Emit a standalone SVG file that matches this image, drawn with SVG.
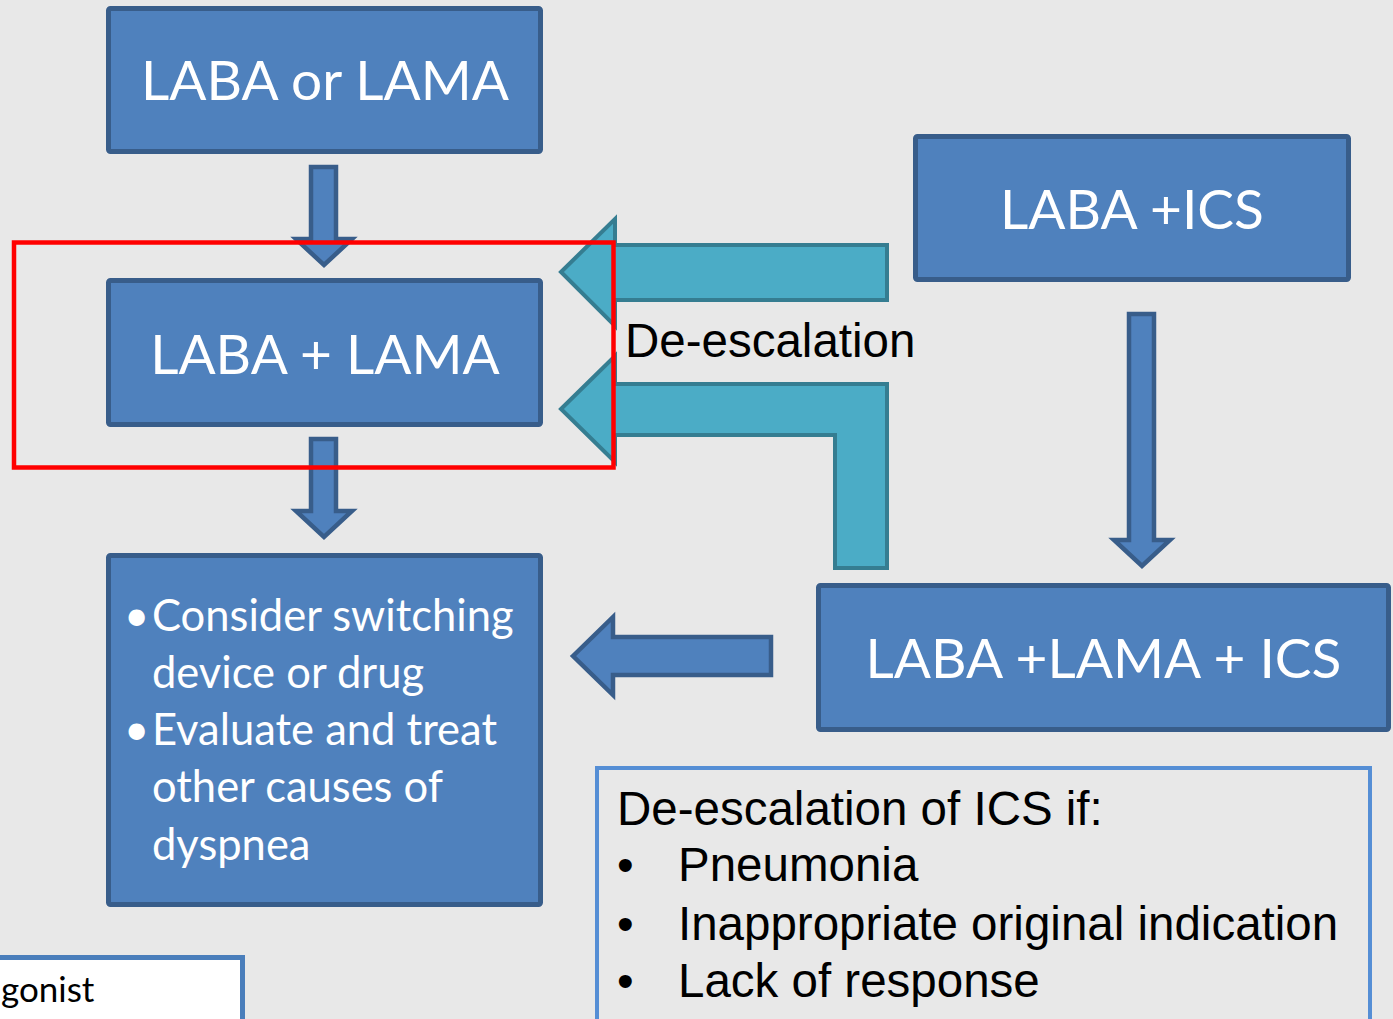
<svg xmlns="http://www.w3.org/2000/svg" width="1393" height="1019" viewBox="0 0 1393 1019">
<style>
.box{fill:#4f81bd;stroke:#385d8a;stroke-width:5}
.big{font-family:Lato,"Open Sans","Liberation Sans",sans-serif;font-size:55px;fill:#fff;text-anchor:middle}
.bul{font-family:Lato,"Open Sans","Liberation Sans",sans-serif;font-size:43.5px;fill:#fff}
.arial{font-family:"Liberation Sans",Arial,sans-serif;font-size:47.5px;fill:#000}
.barrow{fill:#4f81bd;stroke:#385d8a;stroke-width:4.5;stroke-linejoin:miter}
.tarrow{fill:#4bacc6;stroke:#357d91;stroke-width:4;stroke-linejoin:miter}
</style>
<rect x="0" y="0" width="1393" height="1019" fill="#e8e8e8"/>
<g id="connectors">
<polygon class="barrow" points="311,167 336,167 336,239 352,239 324,265 296,239 311,239"/>
<polygon class="barrow" points="311,439 336,439 336,511 352,511 324,537 296,511 311,511"/>
<polygon class="barrow" points="1129,314 1154,314 1154,540 1170,540 1142,566 1114,540 1129,540"/>
<polygon class="barrow" points="573,656 613,617 613,637 771,637 771,675 613,675 613,695"/>
<polygon class="tarrow" points="561,272 615,219 615,245 887,245 887,300 615,300 615,326"/>
<polygon class="tarrow" points="561,409 615,356 615,384 887,384 887,568 835,568 835,435 615,435 615,462"/>
<text class="arial" x="625" y="357">De-escalation</text>
</g>
<g id="n1">
<rect class="box" x="108.5" y="8.5" width="432" height="143" rx="2"/>
<text class="big" x="325" y="100">LABA or LAMA</text>
</g>
<g id="n2">
<rect class="box" x="108.5" y="280.5" width="432" height="144" rx="2"/>
<text class="big" x="325" y="374">LABA + LAMA</text>
</g>
<g id="n3">
<rect class="box" x="108.5" y="555.5" width="432" height="349" rx="2"/>
<text class="bul" x="124" y="631">•</text>
<text class="bul" x="152" y="631">Consider switching</text>
<text class="bul" x="152" y="688">device or drug</text>
<text class="bul" x="124" y="745">•</text>
<text class="bul" x="152" y="745">Evaluate and treat</text>
<text class="bul" x="152" y="802">other causes of</text>
<text class="bul" x="152" y="860">dyspnea</text>
</g>
<g id="n4">
<rect class="box" x="915.5" y="136.5" width="433" height="143" rx="2"/>
<text class="big" x="1132" y="229">LABA +ICS</text>
</g>
<g id="n5">
<rect class="box" x="818.5" y="585.5" width="570" height="144" rx="2"/>
<text class="big" x="1103.5" y="678">LABA +LAMA + ICS</text>
</g>
<g id="highlight">
<rect x="14" y="242.5" width="599.5" height="225" fill="none" stroke="#ff0000" stroke-width="4.5"/>
</g>
<g id="note">
<rect x="597" y="768" width="773" height="270" fill="#e8e8e8" stroke="#558ed5" stroke-width="4"/>
<text class="arial" x="617" y="825">De-escalation of ICS if:</text>
<text class="arial" x="617" y="881">•</text>
<text class="arial" x="678" y="881">Pneumonia</text>
<text class="arial" x="617" y="940">•</text>
<text class="arial" x="678" y="940">Inappropriate original indication</text>
<text class="arial" x="617" y="997">•</text>
<text class="arial" x="678" y="997">Lack of response</text>
</g>
<g id="legend">
<rect x="-10" y="957.5" width="252.5" height="80" fill="#ffffff" stroke="#4a7ebb" stroke-width="5"/>
<text x="1" y="1002" font-family="Lato,'Open Sans','Liberation Sans',sans-serif" font-size="35" fill="#000">gonist</text>
</g>
</svg>
